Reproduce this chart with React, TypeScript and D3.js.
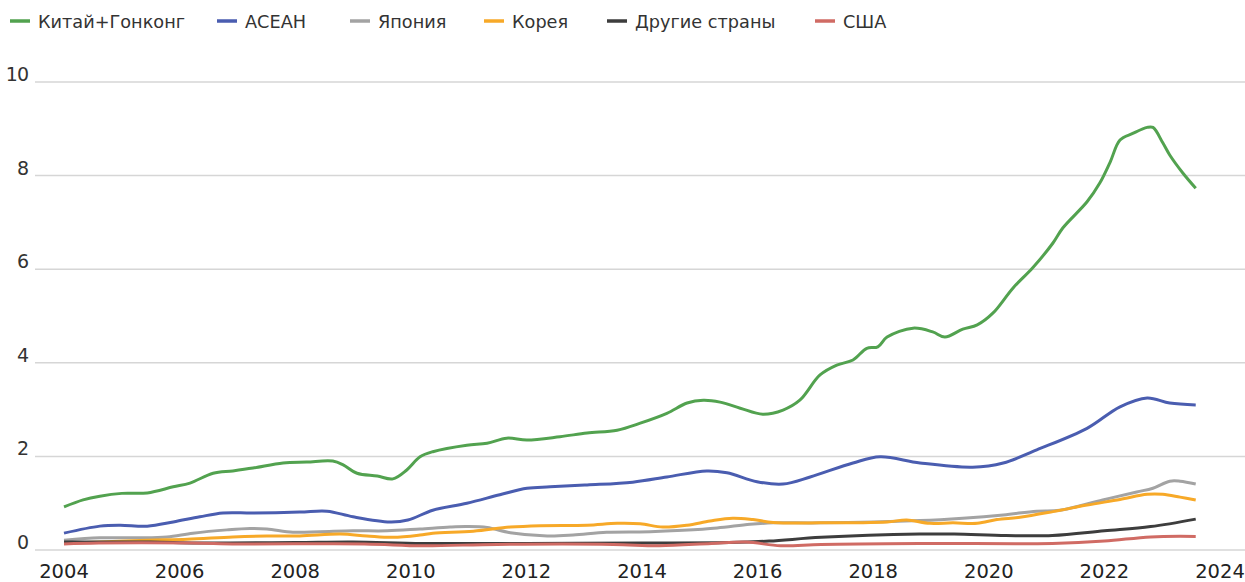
import React from "react";
import * as d3 from "d3";

type P = [number, number];

const seriesNames = ["Китай+Гонконг", "АСЕАН", "Япония", "Корея", "Другие страны", "США"];
const seriesColors = ["#52a24f", "#4a5db0", "#a3a3a3", "#f7a928", "#3d3d3d", "#d06b64"];

const chinaHK: P[] = [
  [2004.0, 0.92], [2004.33, 1.07], [2004.62, 1.15], [2005.0, 1.21], [2005.44, 1.22], [2005.89, 1.35], [2006.18, 1.43],
  [2006.58, 1.64], [2006.92, 1.69], [2007.27, 1.75], [2007.79, 1.86], [2008.2, 1.88], [2008.65, 1.9],
  [2008.83, 1.82], [2009.07, 1.64], [2009.42, 1.58], [2009.69, 1.52], [2009.93, 1.71], [2010.16, 1.99],
  [2010.38, 2.1], [2010.97, 2.24], [2011.32, 2.28], [2011.66, 2.39], [2012.01, 2.35], [2012.58, 2.42],
  [2013.05, 2.5], [2013.57, 2.56], [2013.97, 2.71], [2014.43, 2.92], [2014.78, 3.14], [2015.06, 3.2],
  [2015.35, 3.16], [2015.7, 3.03], [2016.09, 2.9], [2016.44, 2.99], [2016.73, 3.2], [2017.08, 3.74],
  [2017.37, 3.95], [2017.65, 4.06], [2017.89, 4.31], [2018.08, 4.34], [2018.24, 4.55], [2018.69, 4.74],
  [2019.03, 4.66], [2019.24, 4.55], [2019.55, 4.72], [2019.8, 4.81], [2020.07, 5.06], [2020.42, 5.6],
  [2020.76, 6.03], [2021.11, 6.56], [2021.28, 6.88], [2021.7, 7.44], [2021.92, 7.84], [2022.1, 8.29],
  [2022.27, 8.76], [2022.49, 8.9], [2022.74, 9.03], [2022.84, 9.03], [2023.01, 8.7], [2023.13, 8.44],
  [2023.36, 8.05], [2023.58, 7.73],
];

const asean: P[] = [
  [2004.0, 0.36], [2004.62, 0.51], [2004.97, 0.53], [2005.44, 0.51], [2005.89, 0.6], [2006.35, 0.71],
  [2006.75, 0.79], [2007.27, 0.79], [2008.08, 0.81], [2008.55, 0.83], [2009.0, 0.71], [2009.64, 0.6],
  [2009.95, 0.64], [2010.38, 0.85], [2010.97, 1.0], [2011.54, 1.18], [2012.01, 1.32], [2012.41, 1.35],
  [2013.05, 1.39], [2013.84, 1.45], [2014.43, 1.56], [2015.12, 1.69], [2015.47, 1.65], [2015.99, 1.46],
  [2016.44, 1.41], [2016.91, 1.56], [2017.65, 1.86], [2018.12, 1.99], [2018.81, 1.86], [2019.72, 1.77],
  [2020.25, 1.86], [2020.83, 2.14], [2021.7, 2.6], [2022.27, 3.06], [2022.74, 3.25], [2023.13, 3.14],
  [2023.58, 3.1],
];

const japan: P[] = [
  [2004.0, 0.21], [2004.62, 0.26], [2005.31, 0.26], [2005.78, 0.28], [2006.23, 0.36], [2006.82, 0.43],
  [2007.22, 0.46], [2007.51, 0.45], [2007.96, 0.38], [2008.43, 0.39], [2009.0, 0.41], [2009.59, 0.41],
  [2010.16, 0.45], [2010.68, 0.49], [2010.97, 0.5], [2011.32, 0.48], [2011.72, 0.37], [2012.36, 0.3],
  [2012.81, 0.32], [2013.39, 0.38], [2014.14, 0.39], [2014.71, 0.42], [2015.3, 0.47], [2015.87, 0.55],
  [2016.27, 0.58], [2017.08, 0.58], [2018.81, 0.63], [2019.55, 0.68], [2020.25, 0.75], [2020.83, 0.83],
  [2021.23, 0.85], [2021.97, 1.07], [2022.56, 1.24], [2022.84, 1.32], [2023.13, 1.47], [2023.31, 1.47],
  [2023.58, 1.41],
];

const korea: P[] = [
  [2004.0, 0.15], [2004.62, 0.17], [2005.44, 0.21], [2006.13, 0.23], [2006.92, 0.28], [2007.51, 0.3],
  [2008.08, 0.3], [2008.78, 0.34], [2009.24, 0.3], [2009.69, 0.27], [2010.16, 0.32], [2010.38, 0.36],
  [2011.08, 0.4], [2011.72, 0.49], [2012.24, 0.52], [2013.05, 0.53], [2013.57, 0.57], [2013.97, 0.56],
  [2014.36, 0.49], [2014.78, 0.53], [2015.18, 0.62], [2015.57, 0.68], [2015.92, 0.65], [2016.27, 0.59],
  [2017.08, 0.58], [2018.24, 0.6], [2018.58, 0.64], [2018.98, 0.57], [2019.38, 0.58], [2019.8, 0.57],
  [2020.14, 0.65], [2020.54, 0.7], [2021.11, 0.82], [2021.7, 0.96], [2022.27, 1.08], [2022.74, 1.19],
  [2023.01, 1.19], [2023.31, 1.13], [2023.58, 1.07],
];

const others: P[] = [
  [2004.0, 0.17], [2005.5, 0.17], [2006.3, 0.15], [2008.0, 0.16], [2009.0, 0.17], [2010.2, 0.14],
  [2012.0, 0.14], [2014.0, 0.15], [2015.5, 0.16], [2016.2, 0.19], [2017.1, 0.27], [2018.8, 0.34],
  [2019.4, 0.34], [2020.3, 0.31], [2021.1, 0.31], [2022.0, 0.41], [2022.8, 0.5], [2023.58, 0.66],
];

const usa: P[] = [
  [2004.0, 0.13], [2004.6, 0.15], [2006.2, 0.15], [2007.0, 0.13], [2009.2, 0.13], [2010.2, 0.09],
  [2011.5, 0.12], [2013.5, 0.12], [2014.3, 0.09], [2015.2, 0.14], [2015.8, 0.17], [2016.4, 0.09],
  [2017.1, 0.12], [2018.8, 0.14], [2021.1, 0.14], [2022.0, 0.19], [2022.8, 0.28], [2023.58, 0.29],
];

const allSeries = [chinaHK, asean, japan, korea, others, usa];
const yTicks = [0, 2, 4, 6, 8, 10];
const xTicks = [2004, 2006, 2008, 2010, 2012, 2014, 2016, 2018, 2020, 2022, 2024];

const legendX = [10, 217, 350, 484, 607, 815];

export default function App() {
  const W = 1245;
  const H = 582;
  const x = d3.scaleLinear().domain([2004, 2024]).range([64, 1220]);
  const y = d3.scaleLinear().domain([0, 10]).range([550, 82]);
  const line = d3
    .line<P>()
    .x((d) => x(d[0]))
    .y((d) => y(d[1]))
    .curve(d3.curveCatmullRom.alpha(0.5));
  const font = "'DejaVu Sans', 'Open Sans', sans-serif";

  return (
    <svg
      width={W}
      height={H}
      style={{ position: "absolute", left: 0, top: 0, background: "#fff" }}
      fontFamily={font}
    >
      {/* legend */}
      {seriesNames.map((name, i) => (
        <g key={name}>
          <line
            x1={legendX[i]}
            x2={legendX[i] + 20}
            y1={21}
            y2={21}
            stroke={seriesColors[i]}
            strokeWidth={3.5}
          />
          <text x={legendX[i] + 28} y={27.5} fontSize={17.7} fill="#333">
            {name}
          </text>
        </g>
      ))}
      {/* gridlines */}
      {yTicks.map((t) => (
        <g key={t}>
          <line x1={35} x2={W} y1={y(t)} y2={y(t)} stroke="#d6d6d6" strokeWidth={1.5} />
          <text x={28} y={y(t) - 1} textAnchor="end" fontSize={19} fill="#333" letterSpacing={-1}>
            {t}
          </text>
        </g>
      ))}
      {xTicks.map((t) => (
        <text key={t} x={x(t)} y={578} textAnchor="middle" fontSize={19.5} fill="#222">
          {t}
        </text>
      ))}
      {allSeries.map((s, i) => (
        <path
          key={i}
          d={line(s) || ""}
          fill="none"
          stroke={seriesColors[i]}
          strokeWidth={3}
          strokeLinejoin="round"
          strokeLinecap="butt"
        />
      ))}
    </svg>
  );
}
